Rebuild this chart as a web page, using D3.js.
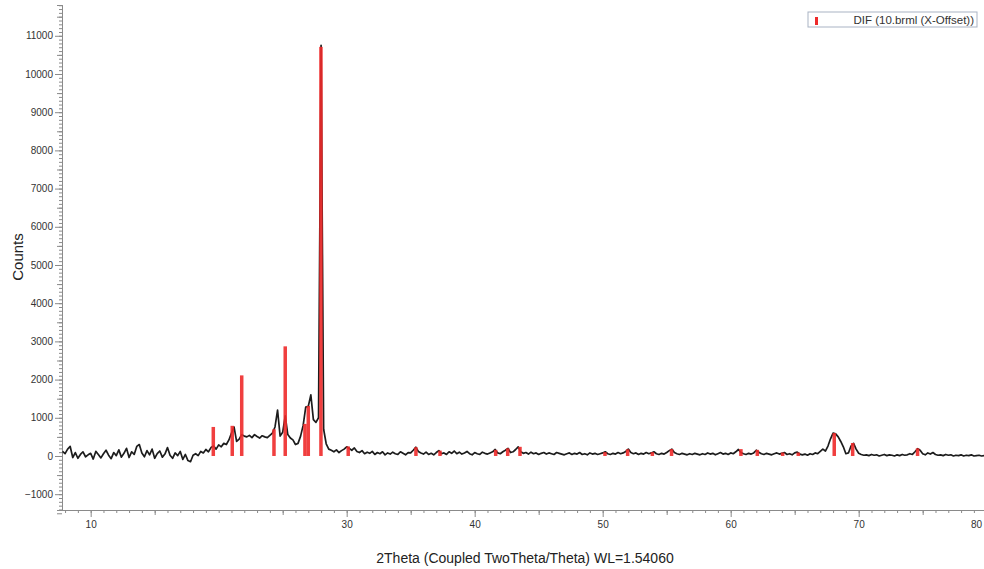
<!DOCTYPE html>
<html>
<head>
<meta charset="utf-8">
<script src="https://cdn.jsdelivr.net/npm/d3@7/dist/d3.min.js"></script>
<style>
  body { margin: 0; background: #fff; }
  svg { display: block; font-family: "Liberation Sans", Arial, sans-serif; }
  .axis path, .axis line { stroke: #8a8a8a; }
  .axis text { fill: #333; font-size: 10px; }
</style>
</head>
<body>
<svg id="chart" width="984" height="569"></svg>
<script>
// measured pattern, 2theta from 7.8 in 0.2 steps
const startAngle = 7.8;
const angleStep = 0.2;
const patternCounts = [
  120, 60, 180, 250, -40, 90, -60, 40, 110, -20,        // 7.8
  30, 70, -80, 120, 40, -50, 60, 150, 20, -70,          // 9.8
  90, 10, 160, -30, 70, 200, -40, 110, 40, 250,         // 11.8
  300, 80, -20, 140, 30, 180, -60, 60, 130, -30,        // 13.8
  50, 220, 20, -60, 80, 10, 120, -90, 40, -120,         // 15.8
  -150, 20, 60, 10, 120, 80, 170, 110, 220, 260,        // 17.8
  180, 290, 240, 330, 300, 420, 600, 760, 380, 440,     // 19.8
  560, 520, 500, 540, 480, 560, 510, 470, 530, 500,     // 21.8
  480, 540, 600, 760, 1200, 520, 620, 1050, 560, 470,   // 23.8
  420, 300, 330, 520, 800, 1280, 1300, 1600, 950, 880,  // 25.8
  1000, 10750, 700, 320, 180, 150, 110, 160, 90, 140,   // 27.8
  180, 240, 200, 150, 210, 120, 90, 140, 60, 100,       // 29.8
  70, 120, 40, 90, 60, 110, 30, 80, 50, 100,            // 31.8
  60, 40, 110, 70, 30, 90, 80, 150, 230, 120,           // 33.8
  80, 50, 100, 40, 70, 30, 90, 140, 60, 80,             // 35.8
  40, 110, 70, 130, 60, 100, 50, 80, 120, 60,           // 37.8
  30, 90, 60, 40, 100, 70, 50, 80, 110, 170,            // 39.8
  80, 60, 110, 150, 200, 90, 110, 170, 240, 110,        // 41.8
  70, 90, 50, 100, 60, 80, 40, 70, 90, 50,              // 43.8
  80, 60, 40, 90, 70, 50, 30, 60, 80, 40,               // 45.8
  70, 50, 90, 40, 60, 30, 80, 50, 70, 40,               // 47.8
  60, 80, 110, 60, 40, 70, 50, 90, 60, 80,              // 49.8
  120, 180, 90, 60, 80, 40, 70, 50, 90, 60,             // 51.8
  80, 110, 60, 40, 70, 50, 90, 140, 180, 90,            // 53.8
  60, 40, 70, 50, 30, 60, 40, 70, 50, 30,               // 55.8
  60, 40, 80, 50, 70, 30, 60, 90, 50, 70,               // 57.8
  40, 80, 60, 110, 170, 90, 60, 40, 70, 50,             // 59.8
  80, 150, 100, 60, 40, 70, 50, 30, 60, 80,             // 61.8
  50, 70, 90, 40, 60, 30, 80, 100, 50, 30,              // 63.8
  50, 20, 60, 40, 80, 60, 120, 180, 130, 260,           // 65.8
  450, 600, 580, 500, 380, 240, 60, 80, 260, 330,       // 67.8
  180, 70, 40, 20, 30, 10, 40, 20, 30, 0,               // 69.8
  20, 40, 10, 30, 20, 0, 30, 10, 40, 20,                // 71.8
  30, 60, 40, 110, 190, 150, 60, 30, 80, 50,            // 73.8
  90, 40, 20, 30, 10, 40, 20, 30, 0, 20,                // 75.8
  10, 30, 0, 20, 10, 30, 0, 10, 20, 0,                  // 77.8
  10, 0                                                 // 79.8
];

// reference (DIF) sticks
const refAngles = [19.58, 21.06, 21.8, 24.32, 25.2, 26.74, 27.0, 27.99, 30.12, 35.41,
  37.29, 41.64, 42.58, 43.54, 50.18, 51.95, 53.88, 55.38, 60.8, 62.08,
  64.06, 65.28, 68.09, 69.53, 74.6];
const refCounts = [760, 790, 2110, 700, 2870, 840, 1310, 10710, 250, 230,
  140, 160, 200, 240, 100, 175, 100, 180, 180, 160,
  90, 90, 600, 340, 200];

const xTickLabels = [10, 30, 40, 50, 60, 70, 80];
const yTickLabels = [-1000, 0, 1000, 2000, 3000, 4000, 5000, 6000, 7000, 8000, 9000, 10000, 11000];
const legendLabel = 'DIF (10.brml (X-Offset))';

const svg = d3.select('#chart');

var x = d3.scaleLinear().domain([7.76, 79.79]).range([62, 984]);
var y = d3.scaleLinear().domain([-1414, 11806]).range([510, 5]);

// y axis: minor, mid, major
svg.append('g').attr('class', 'axis').attr('transform', 'translate(62,0)')
  .call(d3.axisLeft(y).tickValues(d3.range(-1400, 11801, 100)).tickSize(3).tickFormat(''));
svg.append('g').attr('class', 'axis').attr('transform', 'translate(62,0)')
  .call(d3.axisLeft(y).tickValues(d3.range(-1500, 11801, 1000)).tickSize(5).tickFormat(''));
svg.append('g').attr('class', 'axis').attr('transform', 'translate(62,0)')
  .call(d3.axisLeft(y).tickValues(yTickLabels).tickSize(7).tickPadding(2).tickSizeOuter(0).tickFormat(d3.format('d')));

// x axis
svg.append('g').attr('class', 'axis').attr('transform', 'translate(0,510)')
  .call(d3.axisBottom(x).tickValues(d3.range(8, 80, 1)).tickSize(3).tickFormat('').tickSizeOuter(0));
svg.append('g').attr('class', 'axis').attr('transform', 'translate(0,510)')
  .call(d3.axisBottom(x).tickValues(d3.range(15, 80, 10)).tickSize(5).tickFormat('').tickSizeOuter(0));
let xAxis = svg.append('g').attr('class', 'axis').attr('transform', 'translate(0,510)')
  .call(d3.axisBottom(x).tickValues(xTickLabels).tickSize(7).tickPadding(4).tickSizeOuter(0));
// last label sits against the right edge
xAxis.selectAll('.tick text').filter((d) => d === 80).attr('text-anchor', 'end').attr('dx', -5);

svg.selectAll('.axis .domain').attr('stroke', '#8a8a8a');

// measured pattern
var pattern = patternCounts.map((c, i) => ({ angle: startAngle + i * angleStep, count: c }));
var line = d3.line().x((d) => x(d.angle)).y((d) => y(d.count));
svg.append('path')
  .datum(pattern)
  .attr('d', line)
  .attr('fill', 'none')
  .attr('stroke', '#1c1c1c')
  .attr('stroke-width', 1.7)
  .attr('stroke-linejoin', 'round');

// reference sticks
var sticks = refAngles.map((a, i) => ({ angle: a, count: refCounts[i] }));
svg.append('g').selectAll('rect').data(sticks).enter().append('rect')
  .attr('x', (d) => x(d.angle) - 1.75)
  .attr('width', 3.5)
  .attr('y', (d) => y(d.count))
  .attr('height', (d) => y(0) - y(d.count))
  .attr('fill', '#ee2a2a')
  .attr('fill-opacity', 0.9);

// axis titles
svg.append('text')
  .attr('transform', 'translate(23,257) rotate(-90)')
  .attr('text-anchor', 'middle')
  .attr('font-size', 15)
  .attr('fill', '#222')
  .text('Counts');
svg.append('text')
  .attr('x', 525).attr('y', 563)
  .attr('text-anchor', 'middle')
  .attr('font-size', 14)
  .attr('fill', '#222')
  .text('2Theta (Coupled TwoTheta/Theta) WL=1.54060');

// legend
let legend = svg.append('g').attr('transform', 'translate(808,12)');
legend.append('rect').attr('width', 169).attr('height', 15)
  .attr('fill', '#fff').attr('stroke', '#a9b3c4');
legend.append('rect').attr('x', 7).attr('y', 5).attr('width', 3).attr('height', 8).attr('fill', '#ee2a2a');
legend.append('text').attr('x', 166).attr('y', 11.5)
  .attr('text-anchor', 'end')
  .attr('font-size', 11.5)
  .attr('fill', '#333')
  .text(legendLabel);
</script>
</body>
</html>
